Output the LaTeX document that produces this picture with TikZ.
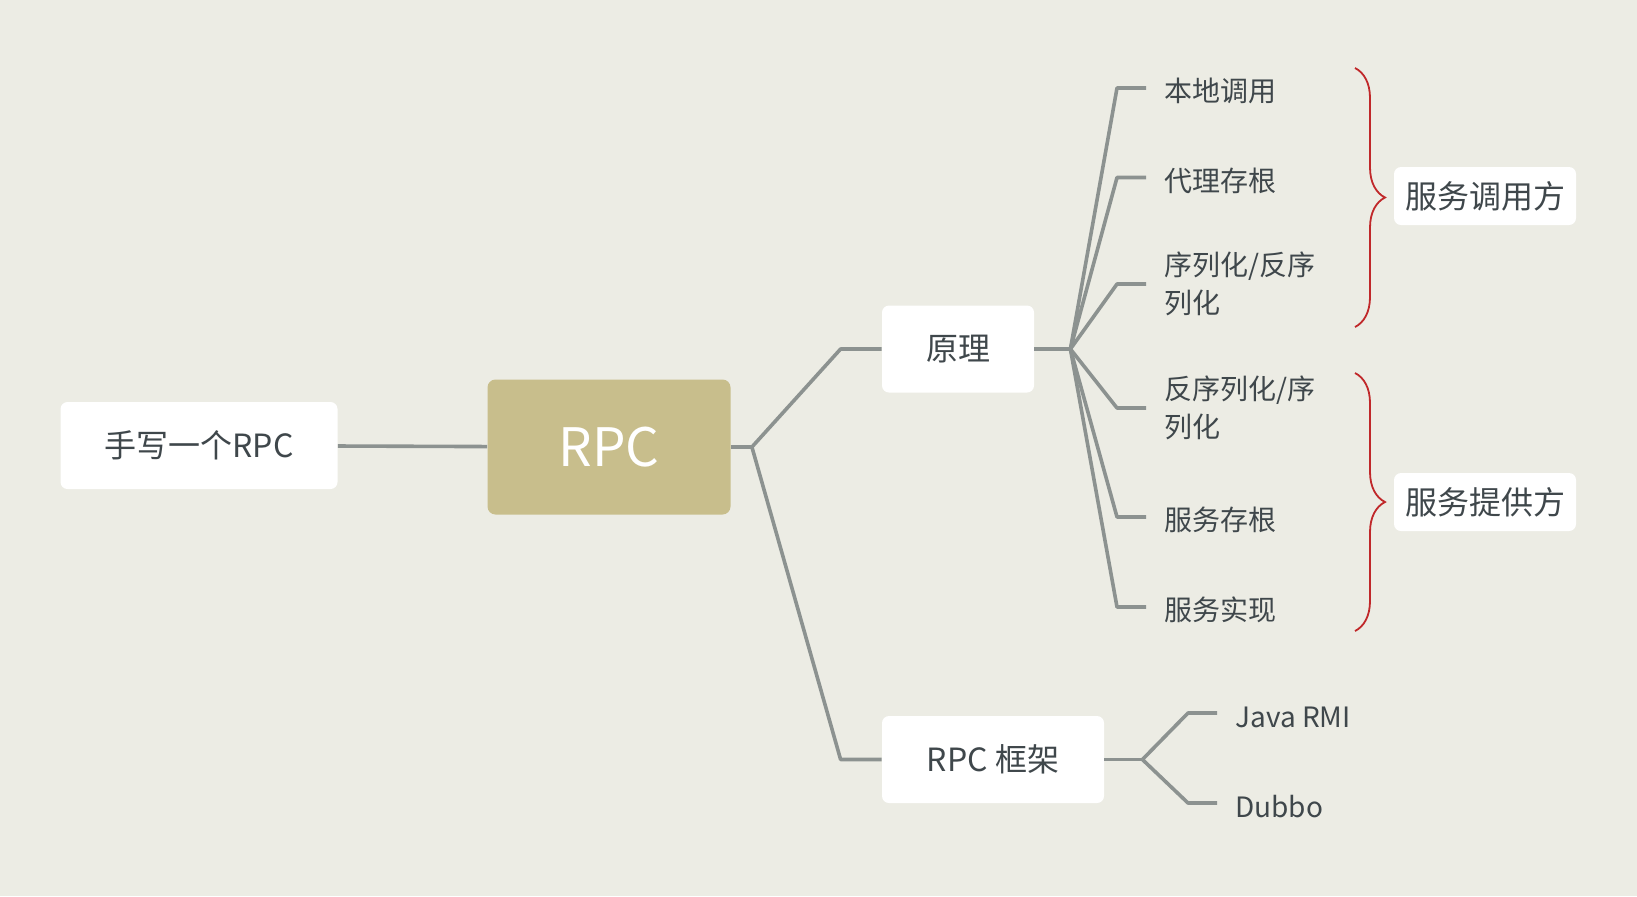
\documentclass[tikz,border=0pt]{standalone}
\usepackage{fontspec}
\setmainfont{Noto Sans CJK SC}
\usepackage{xcolor}
\usetikzlibrary{decorations.pathreplacing}
\definecolor{bgc}{HTML}{ECECE4}
\definecolor{linec}{HTML}{8C9290}
\definecolor{txtc}{HTML}{3F474B}
\definecolor{rpcc}{HTML}{C8BE8C}
\definecolor{bracec}{HTML}{C0282A}
\tikzset{
  topic/.style={fill=white, rounded corners=3.5pt, text=txtc, inner sep=0pt,
    minimum height=43.5pt, font=\fontsize{16}{19}\selectfont},
  central/.style={fill=rpcc, rounded corners=4pt, text=white, inner sep=0pt,
    minimum width=121.5pt, minimum height=67.5pt, font=\fontsize{26.5}{32}\selectfont},
  leaftwo/.style={anchor=west, inner xsep=9pt, inner ysep=0pt, text=txtc, align=left,
    font=\fontsize{14}{19.3}\selectfont},
  leaf/.style={leaftwo, text height=15pt},
  summary/.style={fill=white, rounded corners=3.5pt, text=txtc, inner sep=0pt,
    minimum width=91pt, minimum height=29pt, font=\fontsize{16}{19}\selectfont},
  branch/.style={draw=linec, line width=1.8pt, line join=round},
  sumbrace/.style={draw=bracec, line width=0.9pt, decorate,
    decoration={brace, amplitude=15pt}}
}
\begin{document}
\begin{tikzpicture}[x=0.5pt, y=-0.5pt]
\fill[bgc] (0,0) rectangle (1637,896);
\useasboundingbox (0,0) rectangle (1637,896);

\node[topic, minimum width=138.5pt] (write) at (199,445.5) {手写一个RPC};
\node[central] (rpc) at (609,447) {RPC};
\node[topic, minimum width=76pt] (yuanli) at (958,349) {原理};
\node[topic, minimum width=111pt] (kuangjia) at (993,759.5) {RPC 框架};

\coordinate (h0) at ([xshift=10.5pt]rpc.east);
\coordinate (h1) at ([xshift=18pt]yuanli.east);
\coordinate (h2) at ([xshift=19pt]kuangjia.east);

\node[leaf] (bendi) at (1146,88) {本地调用};
\node[leaf] (daili) at (1146,177.5) {代理存根};
\node[leaftwo] (xulie) at (1146,284) {序列化/反序\\列化};
\node[leaftwo] (fanxulie) at (1146,408) {反序列化/序\\列化};
\node[leaf] (cungen) at (1146,517) {服务存根};
\node[leaf] (shixian) at (1146,607) {服务实现};
\node[leaf] (rmi) at (1217,713) {Java RMI};
\node[leaf] (dubbo) at (1217,803) {Dubbo};

\node[summary] (caller) at (1485,196) {服务调用方};
\node[summary] (provider) at (1485,502) {服务提供方};

\draw[branch] (write) -- (rpc);
\draw[branch] (rpc.east) -- (h0);
\draw[branch] (h0) -- ([xshift=-20.5pt]yuanli.west) -- (yuanli.west);
\draw[branch] (h0) -- ([xshift=-20.5pt]kuangjia.west) -- (kuangjia.west);
\draw[branch] (yuanli.east) -- (h1);
\draw[branch] (h1) -- ([xshift=-14.5pt]bendi.west) -- (bendi.west);
\draw[branch] (h1) -- ([xshift=-14.5pt]daili.west) -- (daili.west);
\draw[branch] (h1) -- ([xshift=-14.5pt]xulie.west) -- (xulie.west);
\draw[branch] (h1) -- ([xshift=-14.5pt]fanxulie.west) -- (fanxulie.west);
\draw[branch] (h1) -- ([xshift=-14.5pt]cungen.west) -- (cungen.west);
\draw[branch] (h1) -- ([xshift=-14.5pt]shixian.west) -- (shixian.west);
\draw[branch] (kuangjia.east) -- (h2);
\draw[branch] (h2) -- ([xshift=-14.5pt]rmi.west) -- (rmi.west);
\draw[branch] (h2) -- ([xshift=-14.5pt]dubbo.west) -- (dubbo.west);

\coordinate (b1a) at (1355,68);
\coordinate (b1b) at (1355,327);
\coordinate (b2a) at (1355,373);
\coordinate (b2b) at (1355,631);
\draw[sumbrace] (b1a) -- (b1b);
\draw[sumbrace] (b2a) -- (b2b);
\end{tikzpicture}
\end{document}
